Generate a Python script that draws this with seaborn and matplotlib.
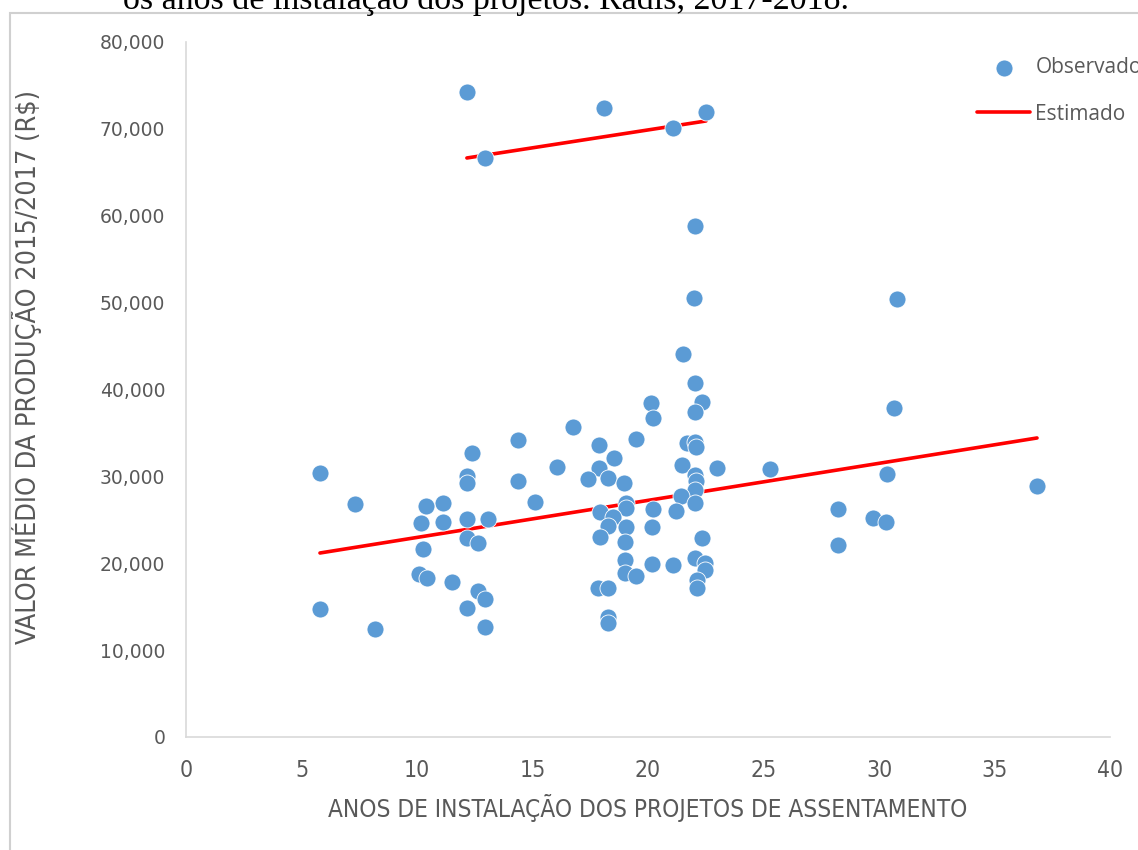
import matplotlib
matplotlib.use("Agg")
import matplotlib.pyplot as plt
import seaborn as sns
import pandas as pd
from matplotlib.patches import Rectangle
from matplotlib.ticker import FuncFormatter

# ---- data ----
anos = [12.16, 18.10, 22.51, 21.08, 12.94,
        22.03, 21.99, 30.78, 21.52, 22.03, 22.34, 20.13, 30.65, 22.03, 20.22,
        16.75, 14.37, 19.48, 17.88, 21.69, 22.03, 22.08, 12.38, 18.53, 16.06,
        21.47, 17.88, 22.99, 25.28, 5.80, 12.16, 12.16, 22.03, 22.08, 30.35,
        18.27, 17.40, 14.37, 18.96, 36.84, 22.03, 21.43, 7.32, 11.13, 10.39,
        15.11, 19.05, 22.03, 28.23, 19.05, 20.22, 21.21, 17.92, 18.48, 29.74,
        12.16, 13.07, 10.17, 11.13, 30.30, 18.27, 19.05, 20.17, 17.92, 12.16,
        12.64, 19.00, 22.34, 28.23, 10.26, 22.03, 22.47, 19.00, 20.17, 21.08,
        22.47, 10.09, 10.43, 19.00, 19.48, 11.52, 22.12, 17.84, 18.27, 22.12,
        12.64, 12.94, 5.80, 12.16, 18.27, 18.27, 12.94, 8.18]
valor = [74240, 72400, 71940, 70100, 66650,
         58820, 50530, 50420, 44090, 40750, 38560, 38450, 37870, 37410, 36720,
         35680, 34190, 34300, 33610, 33840, 33960, 33380, 32690, 32120, 31080,
         31310, 30960, 30960, 30850, 30390, 30040, 29240, 30160, 29470, 30270,
         29810, 29700, 29470, 29240, 28890, 28430, 27740, 26820, 26940, 26590,
         27050, 26940, 26940, 26240, 26360, 26240, 26010, 25900, 25320, 25210,
         25090, 25090, 24630, 24750, 24750, 24290, 24170, 24170, 23020, 22910,
         22330, 22450, 22910, 22100, 21640, 20600, 20030, 20370, 19910, 19800,
         19220, 18760, 18300, 18880, 18530, 17840, 18070, 17150, 17150, 17150,
         16810, 15890, 14730, 14850, 13810, 13120, 12660, 12430]

# estimated (fitted) lines: two segments
est_x = [5.8, 36.84, 12.16, 22.51]
est_y = [21180, 34420, 66650, 70910]
est_seg = ["a", "a", "b", "b"]

x_ticks = [0, 5, 10, 15, 20, 25, 30, 35, 40]
y_ticks = [0, 10000, 20000, 30000, 40000, 50000, 60000, 70000, 80000]

obs = pd.DataFrame({"x": anos, "y": valor})
est = pd.DataFrame({"x": est_x, "y": est_y, "seg": est_seg})

sns.set_theme(style="white")
plt.rcParams["font.family"] = ["DejaVu Sans"]

W, H = 1138, 850
fig = plt.figure(figsize=(W / 100, H / 100), dpi=100)
fig.patch.set_facecolor("white")

# outer frame of the chart object
fig.patches.append(Rectangle((10 / W, -0.2), 1.2, 1.2 - 13 / H,
                             transform=fig.transFigure, fill=False,
                             edgecolor="#d0d0d0", linewidth=1.5, zorder=0))
# cut-off caption above the chart
fig.text(123 / W, 1 - 9 / H, "os anos de instalação dos projetos. Radis, 2017-2018.",
         family=["Liberation Serif", "DejaVu Serif"], fontsize=24.5,
         color="black", ha="left", va="baseline")

ax = fig.add_axes([186 / W, 1 - 737 / H, (1110 - 186) / W, (737 - 42) / H])
ax.set_facecolor("none")

sns.scatterplot(data=obs, x="x", y="y", ax=ax, s=150, color="#5B9BD5",
                edgecolor="white", linewidth=0.6, label="Observado", zorder=3)
first = True
for seg, d in est.groupby("seg"):
    sns.lineplot(data=d, x="x", y="y", ax=ax, color="#FF0000", linewidth=2.6,
                 estimator=None, sort=True, label="Estimado" if first else None,
                 zorder=2, legend=False)
    first = False

ax.set_xlim(0, 40)
ax.set_ylim(0, 80000)
ax.set_xticks(x_ticks)
ax.set_yticks(y_ticks)
ax.yaxis.set_major_formatter(FuncFormatter(lambda v, p: f"{int(v):,}"))

for s in ["top", "right"]:
    ax.spines[s].set_visible(False)
for s in ["left", "bottom"]:
    ax.spines[s].set_color("#d9d9d9")
    ax.spines[s].set_linewidth(1.2)
ax.tick_params(axis="both", length=0)
ax.tick_params(axis="y", pad=15, labelsize=13.5, labelcolor="#595959")
ax.tick_params(axis="x", pad=16, labelcolor="#595959")
for lab in ax.get_xticklabels():
    lab.set_family(["DejaVu Sans"])
    lab.set_fontstretch("condensed")
    lab.set_fontsize(16.5)

ax.set_xlabel("ANOS DE INSTALAÇÃO DOS PROJETOS DE ASSENTAMENTO",
              family=["DejaVu Sans"], fontstretch="condensed", fontsize=17.5,
              color="#595959")
ax.set_ylabel("VALOR MÉDIO DA PRODUÇÃO 2015/2017 (R$)",
              family=["DejaVu Sans"], fontstretch="condensed", fontsize=19.4,
              color="#595959")
ax.xaxis.set_label_coords(0.5, -(794 - 737) / 695)
ax.yaxis.set_label_coords((42 - 186) / 924, (737 - 367) / 695)

handles, labels = ax.get_legend_handles_labels()
leg = ax.legend(handles, labels, loc="upper left",
                bbox_to_anchor=(977 / W, 1 - 57 / H),
                bbox_transform=fig.transFigure, frameon=False,
                prop={"family": ["Open Sans", "DejaVu Sans"], "size": 15},
                handlelength=2.55, handletextpad=0.25, labelspacing=1.23,
                borderpad=0, borderaxespad=0, markerscale=1.0)
for t in leg.get_texts():
    t.set_color("#595959")

fig.savefig("out.png", dpi=100)
